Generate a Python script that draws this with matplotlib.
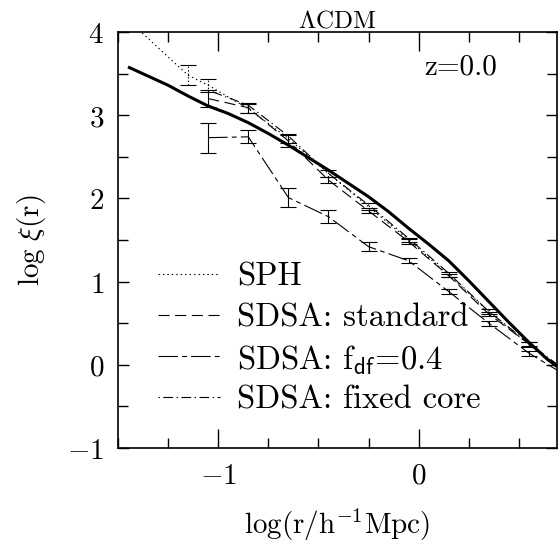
import matplotlib
matplotlib.use("Agg")
import matplotlib.pyplot as plt
from matplotlib.ticker import MultipleLocator, FixedLocator, FixedFormatter

plt.rcParams["mathtext.fontset"] = "cm"
plt.rcParams["lines.scale_dashes"] = False
plt.rcParams["axes.unicode_minus"] = False

# log r bins (h^-1 Mpc)
x_bins = [-1.05, -0.85, -0.65, -0.45, -0.25, -0.05, 0.15, 0.35, 0.55, 0.75]

# SPH
sph_x = [-1.5, -1.38, -1.25, -1.15, -1.05, -0.85, -0.65, -0.45, -0.25, -0.05, 0.15, 0.35, 0.55, 0.75]
sph_y = [4.12, 3.99, 3.70, 3.48, 3.36, 3.08, 2.72, 2.30, 1.90, 1.50, 1.08, 0.64, 0.24, -0.12]
sph_err = [0.0, 0.0, 0.0, 0.12, 0.08, 0.05, 0.05, 0.04, 0.04, 0.03, 0.03, 0.03, 0.03, 0.03]

# SDSA: standard
std_y = [3.20, 3.09, 2.69, 2.22, 1.85, 1.48, 1.07, 0.61, 0.25, -0.12]
std_err = [0.10, 0.06, 0.07, 0.04, 0.03, 0.03, 0.02, 0.02, 0.02, 0.02]

# SDSA: f_df = 0.4
fdf_y = [2.73, 2.74, 2.01, 1.78, 1.42, 1.25, 0.88, 0.50, 0.14, -0.15]
fdf_err = [0.18, 0.08, 0.11, 0.08, 0.05, 0.03, 0.03, 0.03, 0.03, 0.03]

# SDSA: fixed core
fix_y = [3.30, 3.12, 2.75, 2.30, 1.92, 1.52, 1.10, 0.64, 0.26, -0.10]

# reference curve (thick solid)
ref_x = [-1.45, -1.35, -1.25, -1.15, -1.05, -0.95, -0.85, -0.75, -0.65, -0.55, -0.45,
         -0.35, -0.25, -0.15, -0.05, 0.05, 0.15, 0.25, 0.35, 0.45, 0.55, 0.64, 0.69]
ref_y = [3.58, 3.47, 3.36, 3.23, 3.11, 3.02, 2.91, 2.78, 2.64, 2.49, 2.34,
         2.18, 2.02, 1.84, 1.64, 1.45, 1.25, 1.01, 0.76, 0.51, 0.27, 0.07, -0.02]

labels = ["SPH",
          "SDSA: standard",
          r"SDSA: f$_{\mathsf{df}}$=0.4",
          "SDSA: fixed core"]

DOT = (0, (1.0, 2.2))
DASH = (0, (8.0, 4.0))
LDASH = (0, (14.0, 3.0, 3.5, 3.0))
DDOT = (0, (1.0, 2.5, 7.0, 2.5))
styles = [DOT, DASH, LDASH, DDOT]

ROMAN = "cmr10"

fig = plt.figure(figsize=(5.6, 5.48), dpi=100)
ax = fig.add_axes([0.2107, 0.1825, 0.7839, 0.7591])

lw = 0.8
cap = 6


def series(x, y, e, ls, err_ls="-"):
    ax.plot(x, y, color="black", lw=lw, linestyle=ls)
    if e is None:
        return
    xs = [a for a, b in zip(x, e) if b > 0]
    ys = [a for a, b in zip(y, e) if b > 0]
    es = [b for b in e if b > 0]
    cont = ax.errorbar(xs, ys, yerr=es, fmt="none", ecolor="black",
                       elinewidth=lw, capsize=cap, capthick=lw)
    for c in cont.lines[2]:
        c.set_linestyle(err_ls)


series(sph_x, sph_y, sph_err, DOT, err_ls=(0, (1.0, 1.5)))
series(x_bins, std_y, std_err, DASH)
series(x_bins, fdf_y, fdf_err, LDASH)
series(x_bins, fix_y, None, DDOT)
ax.plot(ref_x, ref_y, color="black", lw=2.2, solid_capstyle="butt",
        solid_joinstyle="round")

ax.set_xlim(-1.5, 0.69)
ax.set_ylim(-1, 4)

ax.xaxis.set_major_locator(FixedLocator([-1, 0]))
ax.xaxis.set_major_formatter(FixedFormatter(["$-1$", "$0$"]))
ax.xaxis.set_minor_locator(MultipleLocator(0.25))
yt = [-1, 0, 1, 2, 3, 4]
ax.yaxis.set_major_locator(FixedLocator(yt))
ax.yaxis.set_major_formatter(FixedFormatter(["$%d$" % v if v >= 0 else "$-1$" for v in yt]))
ax.yaxis.set_minor_locator(MultipleLocator(0.5))

ax.tick_params(axis="both", which="both", direction="in", top=True, right=True,
               labelsize=21, width=1.0, colors="black")
ax.tick_params(axis="x", which="major", length=14, pad=10)
ax.tick_params(axis="x", which="minor", length=7)
ax.tick_params(axis="y", which="major", length=8, pad=10)
ax.tick_params(axis="y", which="minor", length=7)
for s in ax.spines.values():
    s.set_linewidth(1.2)

ax.set_xlabel(r"$\mathrm{log(r/h^{-1}Mpc)}$", fontsize=21, labelpad=12)
ax.set_ylabel(r"$\mathrm{log}\ \xi(\mathrm{r})$", fontsize=21, labelpad=14)
ax.set_title(r"$\Lambda\mathrm{CDM}$", fontsize=18, pad=3)
ax.text(0.781, 0.916, "z=0.0", transform=ax.transAxes, family=ROMAN,
        fontsize=21, ha="center", va="center")

# key: sample line followed by its label
row_y = [0.418, 0.320, 0.221, 0.123]
for yk, ls, lab in zip(row_y, styles, labels):
    ax.plot([0.091, 0.232], [yk, yk], transform=ax.transAxes, color="black",
            lw=lw, linestyle=ls, clip_on=False)
    ax.text(0.271, yk, lab, transform=ax.transAxes, fontsize=23.5, family=ROMAN,
            ha="left", va="center_baseline")

fig.savefig("out.png", dpi=100)
